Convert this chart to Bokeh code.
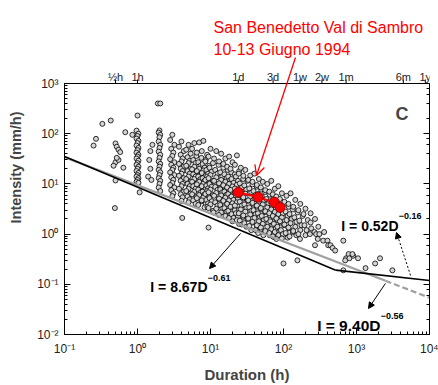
from bokeh.plotting import figure
from bokeh.models import (LogAxis, LogTicker, CustomJSTickFormatter,
                          Label, Arrow, NormalHead, OpenHead, ColumnDataSource)
from bokeh.core.properties import value
from bokeh.embed import file_html
from bokeh.resources import INLINE

# ---------------- data ----------------
duration_h = [
    0.25, 0.27, 0.33, 0.43, 0.50, 0.52, 0.55, 0.58, 0.50, 0.47, 0.64, 0.50, 0.68, 0.85, 0.49, 0.55, 0.52,
    1.00, 0.97, 1.03, 1.00, 0.97, 1.03, 1.00, 0.97, 1.03, 1.00, 0.97, 1.03, 1.00, 0.97, 1.03, 1.00, 0.97, 1.03,
    1.00, 0.97, 1.03, 1.00, 0.97, 1.03, 1.00, 0.97, 1.03, 1.07,
    1.50, 1.45, 1.50, 1.40, 1.55, 1.60,
    1.90, 2.05, 2.00, 1.95, 2.05, 2.00, 1.95, 2.05, 2.00, 1.95, 2.05, 2.00, 1.95, 2.05, 2.00, 1.95, 2.05, 2.00,
    1.95, 2.05, 2.00, 1.95, 2.05,
    3.0, 2.8, 3.2, 2.9, 3.1, 3.0, 2.8, 3.2, 2.9, 3.1, 3.0, 2.8, 3.2, 2.9, 3.1, 3.0, 2.8, 3.2, 2.9, 3.1, 3.0,
    4.0, 3.7, 4.3, 3.9, 4.15, 4.0, 3.7, 4.3, 3.9, 4.15, 4.0, 3.7, 4.3, 3.9, 4.15, 4.0, 3.7, 4.3, 3.9, 4.15, 4.0, 4.1,
    5.0, 4.65, 5.35, 4.85, 5.2, 5.0, 4.65, 5.35, 4.85, 5.2, 5.0, 4.65, 5.35, 4.85, 5.2, 5.0, 4.65, 5.35, 4.85, 5.2, 5.0,
    6.0, 5.6, 6.4, 5.8, 6.25, 6.0, 5.6, 6.4, 5.8, 6.25, 6.0, 5.6, 6.4, 5.8, 6.25, 6.0, 5.6, 6.4, 5.8, 6.25,
    7.0, 6.5, 7.5, 6.8, 7.3, 7.0, 6.5, 7.5, 6.8, 7.3, 7.0, 6.5, 7.5, 6.8, 7.3, 7.0, 6.5, 7.5, 6.8,
    8.0, 7.6, 8.6, 7.8, 8.3, 8.0, 7.6, 8.6, 7.8, 8.3, 8.0, 7.6, 8.6, 7.8, 8.3, 8.0, 7.6, 8.6, 8.3,
    9.0, 8.5, 9.6, 8.8, 9.3, 9.0, 8.5, 9.6, 8.8, 9.3, 9.0, 8.5, 9.6, 8.8, 9.3, 9.1, 9.4,
    10, 9.4, 10.8, 9.7, 10.4, 10, 9.4, 10.8, 9.7, 10.4, 10, 9.4, 10.8, 9.7, 10.4, 10, 9.4, 10.8,
    12, 11.2, 12.9, 11.6, 12.5, 12, 11.2, 12.9, 11.6, 12.5, 12, 11.2, 12.9, 11.6, 12.5, 12, 11,
    14, 13.1, 15, 13.6, 14.5, 14, 13.1, 15, 13.6, 14.5, 14, 13.1, 15, 13.6, 14.5, 14, 13,
    16, 15, 17.2, 15.5, 16.6, 16, 15, 17.2, 15.5, 16.6, 16, 15, 17.2, 15.5, 16.6, 16,
    18, 16.9, 19.3, 17.5, 18.6, 18, 16.9, 19.3, 17.5, 18.6, 18, 16.9, 19.3, 17.5, 18.6, 18,
    20, 18.8, 21.5, 19.4, 20.7, 20, 18.8, 21.5, 19.4, 20.7, 20, 18.8, 21.5, 19.4, 20.7, 20,
    23, 21.6, 24.7, 22.3, 23.8, 23, 21.6, 24.7, 22.3, 23.8, 23, 21.6, 24.7, 22.3, 23.8, 23, 24.5,
    26, 24.4, 28, 25.2, 26.9, 26, 24.4, 28, 25.2, 26.9, 26, 24.4, 28, 25.2, 26.9,
    30, 28.2, 32.2, 29.1, 31, 30, 28.2, 32.2, 29.1, 31, 30, 28.2, 32.2, 29.1, 31,
    35, 32.9, 37.6, 34, 36.2, 35, 32.9, 37.6, 34, 36.2, 35, 32.9, 37.6, 34, 36.2,
    40, 37.6, 43, 38.8, 41.4, 40, 37.6, 43, 38.8, 41.4, 40, 37.6, 43, 41.4,
    46, 43.2, 49.4, 44.6, 47.6, 46, 43.2, 49.4, 44.6, 47.6, 46, 43.2, 49.4, 45,
    52, 48.9, 55.9, 50.4, 53.8, 52, 48.9, 55.9, 50.4, 53.8, 52, 48.9, 55.9, 53,
    60, 56.4, 64.5, 58.2, 62.1, 60, 56.4, 64.5, 58.2, 62.1, 60, 56.4, 64.5,
    68, 63.9, 73.1, 66, 70.4, 68, 63.9, 73.1, 66, 70.4, 68, 63.9, 73.1,
    76, 71.4, 81.7, 73.7, 78.7, 76, 71.4, 81.7, 73.7, 78.7, 76, 71.4,
    85, 79.9, 91.4, 82.5, 88, 85, 79.9, 91.4, 82.5, 88, 85, 79.9,
    95, 89.3, 102, 92.2, 98.3, 95, 89.3, 102, 92.2, 98.3, 95, 100,
    110, 103, 118, 107, 114, 110, 103, 118, 107, 114,
    125, 117, 134, 121, 129, 125, 117, 134, 121,
    145, 136, 156, 141, 150, 145, 136, 150, 155,
    170, 160, 183, 165, 176, 170, 160, 168,
    200, 188, 215, 194, 207, 200,
    235, 235, 240, 230, 270, 265, 270, 280, 300, 310, 295, 350, 360, 400, 410, 440, 470, 510, 660, 660,
    720, 700, 780, 800, 900, 880, 1050, 1330, 1800, 2100, 3100,
]
intensity_mmh = [
    58, 79, 157, 183, 64, 55, 48, 43, 27, 23, 21, 11.7, 107, 95, 3.3, 30, 33,
    230, 115, 100, 90, 80, 72, 65, 58, 52, 47, 42, 38, 35, 32, 29, 26, 24, 22,
    20, 18, 16.5, 15, 14, 13, 12, 11, 10.5, 6.8,
    45, 30, 20, 14, 12, 60,
    400, 400, 116, 105, 95, 85, 70, 60, 52, 44, 38, 33, 28, 25, 22, 19, 17, 15,
    13, 11.5, 10, 8.5, 7.2,
    95, 75, 60, 50, 42, 36, 31, 27, 24, 21, 19, 17, 15, 13.5, 12, 10.5, 9.5, 8.5, 7.5, 6.5, 5.7,
    70, 55, 45, 38, 32, 28, 25, 22, 20, 18, 16, 14.5, 13, 11.5, 10, 9, 8, 7, 6.2, 5.4, 4.6, 2.1,
    60, 48, 40, 34, 29, 26, 23, 20, 18, 16, 14, 12.5, 11, 10, 9, 8, 7.2, 6.4, 5.6, 4.9, 4.3,
    65, 50, 36, 30, 26, 22, 19.5, 17.5, 15.5, 14, 12.5, 11, 10, 9, 8, 7, 6.2, 5.5, 4.7, 4.0,
    67, 42, 33, 27, 23, 20, 18, 16, 14, 12.5, 11, 9.8, 8.7, 7.7, 6.8, 6.0, 5.2, 4.5, 3.8,
    72, 45, 30, 25, 21, 18.5, 16.5, 14.5, 13, 11.5, 10.2, 9, 8, 7, 6.2, 5.4, 4.7, 4.0, 3.4,
    38, 28, 23, 19, 16, 14, 12, 10.5, 9.3, 8.2, 7.2, 6.3, 5.5, 4.8, 4.1, 3.5, 1.35,
    50, 35, 26, 21, 17.5, 15, 13, 11.5, 10, 8.8, 7.7, 6.8, 6.0, 5.2, 4.5, 3.9, 3.3, 2.9,
    45, 32, 24, 19, 16, 13.5, 11.5, 10, 8.7, 7.6, 6.6, 5.8, 5.0, 4.3, 3.7, 3.2, 2.7,
    40, 28, 21, 17, 14, 12, 10.3, 9, 7.8, 6.8, 5.9, 5.1, 4.4, 3.8, 3.2, 2.7, 2.4,
    32, 25, 19, 15.5, 13, 11, 9.4, 8.1, 7, 6.1, 5.3, 4.6, 3.9, 3.3, 2.8, 2.3,
    35, 22, 17, 14, 11.8, 10, 8.5, 7.3, 6.3, 5.4, 4.7, 4.0, 3.4, 2.9, 2.4, 2.1,
    27, 20, 15.5, 12.5, 10.5, 8.9, 7.6, 6.5, 5.6, 4.8, 4.1, 3.5, 3.0, 2.5, 2.1, 1.8,
    37, 24, 18, 14, 11.5, 9.6, 8.1, 6.9, 5.9, 5.0, 4.3, 3.7, 3.1, 2.6, 2.2, 1.9, 1.6,
    21, 16, 12.5, 10.2, 8.5, 7.1, 6.0, 5.1, 4.4, 3.7, 3.1, 2.6, 2.2, 1.85, 1.55,
    19, 14.5, 11.5, 9.3, 7.7, 6.4, 5.4, 4.6, 3.9, 3.3, 2.8, 2.35, 2.0, 1.65, 1.4,
    14.7, 12, 9.8, 8.1, 6.7, 5.6, 4.7, 4.0, 3.4, 2.9, 2.45, 2.05, 1.7, 1.45, 1.2,
    16, 11, 8.8, 7.2, 6.0, 5.0, 4.2, 3.5, 3.0, 2.5, 2.1, 1.75, 1.45, 1.2,
    12.5, 9.5, 7.7, 6.3, 5.2, 4.4, 3.7, 3.1, 2.6, 2.2, 1.8, 1.5, 1.25, 1.05,
    11, 8.5, 6.9, 5.6, 4.7, 3.9, 3.3, 2.75, 2.3, 1.9, 1.6, 1.35, 1.1, 0.95,
    10, 7.5, 6.1, 5.0, 4.1, 3.4, 2.85, 2.4, 2.0, 1.65, 1.4, 1.15, 0.95,
    11.5, 7.0, 5.5, 4.5, 3.7, 3.1, 2.6, 2.15, 1.8, 1.5, 1.25, 1.05, 0.88,
    8.0, 6.2, 5.0, 4.0, 3.3, 2.75, 2.3, 1.9, 1.6, 1.3, 1.1, 0.9,
    9.0, 5.6, 4.5, 3.6, 3.0, 2.5, 2.05, 1.7, 1.4, 1.15, 0.95, 0.8,
    6.5, 5.0, 4.0, 3.2, 2.6, 2.15, 1.8, 1.5, 1.2, 1.0, 0.82, 0.26,
    5.8, 4.4, 3.5, 2.8, 2.3, 1.9, 1.55, 1.3, 1.05, 0.85,
    6.5, 4.0, 3.1, 2.5, 2.0, 1.65, 1.35, 1.1, 0.9,
    4.8, 3.5, 2.7, 2.15, 1.75, 1.4, 1.15, 0.95, 0.3,
    4.0, 3.0, 2.3, 1.85, 1.5, 1.2, 1.0, 0.8,
    3.2, 2.5, 1.9, 1.5, 1.2, 0.95,
    2.6, 1.7, 1.3, 1.0, 2.0, 1.1, 0.6, 1.0, 1.4, 1.0, 0.8, 0.74, 1.1, 0.74, 0.6, 0.6, 0.53, 0.47, 0.74, 0.19,
    0.33, 0.3, 0.4, 0.33, 0.37, 0.4, 0.33, 0.21, 0.26, 0.33, 0.19,
]

# San Benedetto Val di Sambro, 10-13 June 1994 (cumulative)
event_duration_h = [24, 45, 75, 90]
event_intensity_mmh = [6.8, 5.4, 4.3, 3.4]

# Thresholds I = alpha * D^beta
thr_alpha = [9.40, 8.67, 0.52]
thr_beta = [-0.56, -0.61, -0.16]

top_ticks_h = [0.5, 1, 24, 72, 168, 336, 720, 4380, 8760]
top_tick_labels = ["½h", "1h", "1d", "3d", "1w", "2w", "1m", "6m", "1y"]

FONT = "Liberation Sans"

# axis extents of the plotted box
X_MIN, X_MAX = 0.1, 1e4
Y_MIN, Y_MAX = 0.01, 1000
DEC_PX = 251 / 5          # pixels per decade on the y axis
TOP_PX = 83               # room above the box for the top scale and annotation
step = lambda px: 10 ** (px / DEC_PX)   # multiplicative factor for a vertical pixel offset

n = min(len(duration_h), len(intensity_mmh))
src = ColumnDataSource(dict(d=duration_h[:n], i=intensity_mmh[:n]))

p = figure(width=438, height=385, x_axis_type="log", y_axis_type="log",
           x_range=(X_MIN, X_MAX), y_range=(Y_MIN, Y_MAX * step(TOP_PX)),
           output_backend="svg", toolbar_location=None,
           min_border_left=64, min_border_right=9, min_border_top=0, min_border_bottom=51)
p.grid.visible = False
p.outline_line_color = None
p.background_fill_color = "white"
p.border_fill_color = "white"

sup_code = """
const sup = {"-":"\u207b","0":"\u2070","1":"\u00b9","2":"\u00b2","3":"\u00b3","4":"\u2074",
             "5":"\u2075","6":"\u2076","7":"\u2077","8":"\u2078","9":"\u2079"};
const e = Math.round(Math.log10(tick));
return "10" + String(e).split("").map(c => sup[c]).join("");
"""

def style_axis(ax, labels=True):
    ax.axis_line_color = "black"
    ax.major_tick_line_color = "black"
    ax.minor_tick_line_color = "black"
    ax.major_tick_in = 6
    ax.major_tick_out = 0
    ax.minor_tick_in = 3
    ax.minor_tick_out = 0
    ax.major_label_text_font = FONT
    ax.major_label_text_font_size = "12px" if labels else "0px"
    ax.major_label_text_color = "#222222"

xa = p.xaxis[0]
style_axis(xa)
xa.formatter = CustomJSTickFormatter(code=sup_code)
xa.major_label_standoff = 7
xa.axis_label = "Duration (h)"
xa.axis_label_text_font = FONT
xa.axis_label_text_font_style = "bold"
xa.axis_label_text_font_size = "15px"
xa.axis_label_standoff = 7

ya = p.yaxis[0]
style_axis(ya)
ya.bounds = (Y_MIN, Y_MAX)
ya.formatter = CustomJSTickFormatter(code=sup_code)
ya.major_label_standoff = 6
ya.axis_label = "Intensity (mm/h)"
ya.axis_label_text_font = FONT
ya.axis_label_text_font_style = "bold"
ya.axis_label_text_font_size = "14.5px"
ya.axis_label_standoff = 10

ra = LogAxis(ticker=LogTicker(), bounds=(Y_MIN, Y_MAX))
style_axis(ra, labels=False)
ra.major_label_standoff = 0
ra.formatter = CustomJSTickFormatter(code="return '';")
p.add_layout(ra, "right")

# top border and top time scale (drawn inside the extended frame)
p.line([X_MIN, X_MAX], [Y_MAX, Y_MAX], line_color="black", line_width=1)
p.segment(x0=top_ticks_h, y0=[Y_MAX] * len(top_ticks_h), x1=top_ticks_h,
          y1=[Y_MAX * step(4)] * len(top_ticks_h), line_color="black", line_width=1)
p.text(x=top_ticks_h, y=[Y_MAX * step(6.5)] * len(top_ticks_h), text=top_tick_labels,
       text_align="center", text_baseline="alphabetic", text_font=value(FONT),
       text_font_size="11px", text_color="#222222")

# scatter of rainfall events
p.scatter("d", "i", source=src, size=5, fill_color="#d4d4d4", line_color="#000000", line_width=0.8)

# threshold lines
a_g, a_b, a_r = thr_alpha
b_g, b_b, b_r = thr_beta
d_switch = 2500
gray_d = [X_MIN, d_switch]
p.line(gray_d, [a_g * d ** b_g for d in gray_d], line_color="#a0a0a0", line_width=2.2)
gray_d2 = [d_switch, X_MAX]
p.line(gray_d2, [a_g * d ** b_g for d in gray_d2], line_color="#a0a0a0", line_width=2.2, line_dash="6 3")
d_x = (a_b / a_r) ** (1.0 / (b_r - b_b))
blk1 = [X_MIN, d_x]
blk2 = [d_x, X_MAX]
p.line(blk1, [a_b * d ** b_b for d in blk1], line_color="black", line_width=1.6)
p.line(blk2, [a_r * d ** b_r for d in blk2], line_color="black", line_width=1.6)

# event
p.line(event_duration_h, event_intensity_mmh, line_color="red", line_width=2)
p.scatter(event_duration_h, event_intensity_mmh, size=10, fill_color="#ff0000", line_color="#8b0000", line_width=0.8)

# red annotation
p.text(x=[11.0, 11.0], y=[13060, 4750], text=["San Benedetto Val di Sambro", "10-13 Giugno 1994"],
       text_align="left", text_baseline="alphabetic", text_font=value(FONT),
       text_font_size="16px", text_color="#ff0000")

# equation labels
def eq_label(x, y, main, sup, sx, sy, size="14px"):
    p.add_layout(Label(x=x, y=y, text=main, text_align="right", text_baseline="alphabetic",
                       text_font=FONT, text_font_style="bold", text_font_size=size, text_color="black"))
    p.add_layout(Label(x=sx, y=sy, text=sup, text_align="left", text_baseline="alphabetic",
                       text_font=FONT, text_font_style="bold", text_font_size="9px", text_color="black"))

eq_label(3760, 1.48, "I = 0.52D", "\u22120.16", 3800, 2.34)
eq_label(2130, 0.0151, "I = 9.40D", "\u22120.56", 2150, 0.0229, size="15.5px")
eq_label(9.1, 0.0904, "I = 8.67D", "\u22120.61", 9.2, 0.1365)

p.add_layout(Label(x=3420, y=252, text="C", text_align="left", text_baseline="alphabetic",
                   text_font=FONT, text_font_style="bold", text_font_size="18px"))

# arrows
p.add_layout(Arrow(end=OpenHead(size=10, line_color="#ff0000", line_width=1.3),
                   x_start=146, y_start=3300, x_end=42.7, y_end=14.7, line_width=1.3, line_color="#ff0000"))
p.add_layout(Arrow(end=NormalHead(size=6, fill_color="black", line_color="black"),
                   x_start=25.8, y_start=1.03, x_end=9.7, y_end=0.206, line_width=1, line_color="black"))
p.add_layout(Arrow(end=NormalHead(size=6, fill_color="black", line_color="black"),
                   x_start=5500, y_start=0.15, x_end=3530, y_end=1.08, line_width=1,
                   line_color="black", line_dash="2 2"))
p.add_layout(Arrow(end=NormalHead(size=6, fill_color="black", line_color="black"),
                   x_start=2490, y_start=0.104, x_end=1460, y_end=0.033, line_width=1, line_color="black"))

open("out.html", "w").write(file_html(p, INLINE))
